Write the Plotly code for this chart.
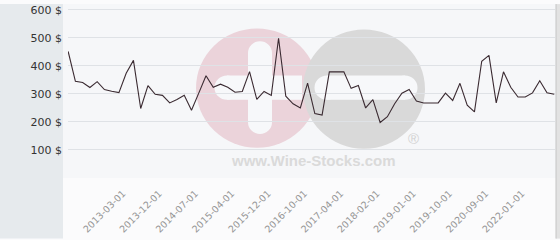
import plotly.graph_objects as go

dates = [
    "2012-08-01", "2012-09-01", "2012-10-01", "2012-11-01", "2012-12-01", "2013-01-01", "2013-02-01",
    "2013-03-01", "2013-05-01", "2013-07-01", "2013-09-01", "2013-10-01",
    "2013-12-01", "2014-01-01", "2014-03-01", "2014-04-01", "2014-06-01",
    "2014-07-01", "2014-09-01", "2014-11-01", "2015-01-01", "2015-02-01",
    "2015-04-01", "2015-06-01", "2015-07-01", "2015-09-01", "2015-10-01",
    "2015-12-01", "2016-02-01", "2016-04-01", "2016-06-01", "2016-08-01",
    "2016-10-01", "2016-11-01", "2016-12-01", "2017-01-01", "2017-03-01",
    "2017-04-01", "2017-06-01", "2017-08-01", "2017-10-01", "2017-12-01",
    "2018-02-01", "2018-04-01", "2018-06-01", "2018-09-01", "2018-11-01",
    "2019-01-01", "2019-03-01", "2019-05-01", "2019-07-01", "2019-08-01",
    "2019-10-01", "2019-12-01", "2020-02-01", "2020-05-01", "2020-07-01",
    "2020-09-01", "2020-12-01", "2021-03-01", "2021-06-01", "2021-09-01",
    "2022-01-01", "2022-04-01", "2022-07-01", "2022-10-01", "2023-01-01", "2023-04-01",
]

prices = [
    452, 345, 341, 323, 344, 316, 310, 305, 374, 420, 248, 330, 299, 295, 268,
    280, 295, 242, 303, 365, 324, 335, 324, 306, 309, 380, 281, 309, 295, 499,
    292, 265, 250, 339, 230, 225, 379, 379, 379, 320, 330, 250, 280, 198, 219,
    265, 303, 316, 275, 268, 268, 268, 303, 277, 338, 260, 236, 417, 438, 268,
    379, 324, 289, 289, 304, 347, 304, 299,
]

tick_labels = [
    "2013-03-01", "2013-12-01", "2014-07-01", "2015-04-01", "2015-12-01", "2016-10-01",
    "2017-04-01", "2018-02-01", "2019-01-01", "2019-10-01", "2020-09-01", "2022-01-01",
]

y_ticks = [0, 100, 200, 300, 400, 500, 600]

W, H = 560, 240
L, R, T, B = 68, 5, 4, 62
PW, PH = W - L - R, H - T - B
Y_TOP = 600 * PH / 172.0


def px(x):
    return (x - L) / PW


def py(y):
    return (H - B - y) / PH


shapes = []
shapes.append(dict(type="rect", xref="paper", yref="paper", x0=px(0), x1=px(63),
                   y0=py(H), y1=py(0), fillcolor="#e6eaed", line_width=0, layer="below"))
shapes.append(dict(type="rect", xref="paper", yref="paper", x0=px(63), x1=px(556),
                   y0=py(178), y1=py(0), fillcolor="#f6f7f9", line_width=0, layer="below"))
shapes.append(dict(type="rect", xref="paper", yref="paper", x0=px(556), x1=px(W),
                   y0=py(H), y1=py(0), fillcolor="#e2e2e2", line_width=0, layer="below"))
shapes.append(dict(type="line", xref="paper", yref="paper", x0=px(556), x1=px(556),
                   y0=py(H), y1=py(0), line=dict(color="#c4c4c4", width=1), layer="below"))


def circle(cx, cy, r, color):
    return dict(type="circle", xref="paper", yref="paper", x0=px(cx - r), x1=px(cx + r),
                y0=py(cy + r), y1=py(cy - r), fillcolor=color, line_width=0, layer="below")


def rect(x0, y0, x1, y1, color):
    return dict(type="rect", xref="paper", yref="paper", x0=px(x0), x1=px(x1),
                y0=py(y1), y1=py(y0), fillcolor=color, line_width=0, layer="below")


PINK = "#ebd3da"
GREY = "#d9d9d9"
WHITE = "#f7f8fa"
shapes.append(circle(257, 86, 61, PINK))
shapes.append(circle(364, 87, 61, GREY))
shapes.append(rect(327, 73, 405, 98, WHITE))
shapes.append(circle(327, 85.5, 12.5, WHITE))
shapes.append(circle(405, 85.5, 12.5, WHITE))
shapes.append(rect(227, 73, 302, 98, WHITE))
shapes.append(circle(227, 85.5, 12.5, WHITE))
shapes.append(rect(248, 50, 272, 121, WHITE))
shapes.append(circle(260, 50, 12, WHITE))
shapes.append(circle(260, 121, 12, WHITE))

annotations = [
    dict(text="<b>www.Wine-Stocks.com</b>", xref="paper", yref="paper", x=px(313), y=py(160),
         showarrow=False, font=dict(family="Liberation Sans, Arial", size=15, color="#dadada"),
         xanchor="center", yanchor="middle"),
    dict(text="®", xref="paper", yref="paper", x=px(413), y=py(138),
         showarrow=False, font=dict(family="Liberation Sans, Arial", size=15, color="#d2d2d2"),
         xanchor="center", yanchor="middle"),
]

fig = go.Figure()
fig.add_trace(go.Scatter(x=dates, y=prices, mode="lines",
                         line=dict(color="#3a2a31", width=1.1), hoverinfo="x+y"))

fig.update_layout(
    width=W, height=H,
    margin=dict(l=L, r=R, t=T, b=B, pad=0),
    paper_bgcolor="#fbfbfc",
    plot_bgcolor="rgba(0,0,0,0)",
    showlegend=False,
    shapes=shapes,
    annotations=annotations,
    font=dict(family="DejaVu Sans"),
)

fig.update_xaxes(
    type="category",
    range=[-0.02, len(dates) - 1 + 0.1],
    tickmode="array",
    tickvals=tick_labels,
    ticktext=tick_labels,
    tickangle=-45,
    tickfont=dict(family="DejaVu Sans", size=9.5, color="#959595"),
    ticklabelstandoff=7,
    ticklabelshift=4,
    showgrid=False,
    zeroline=False,
    showline=False,
    ticks="",
)

fig.update_yaxes(
    range=[0, Y_TOP],
    tickmode="array",
    tickvals=y_ticks,
    ticktext=["" if v == 0 else f"{v} $" for v in y_ticks],
    tickfont=dict(family="DejaVu Sans", size=11, color="#333333"),
    ticklabeloverflow="allow",
    showgrid=True,
    gridcolor="#dfe2e6",
    gridwidth=1,
    zeroline=False,
    showline=False,
    ticks="",
    ticklabelstandoff=5,
)

fig.write_html("out.html", config={"displayModeBar": False})
